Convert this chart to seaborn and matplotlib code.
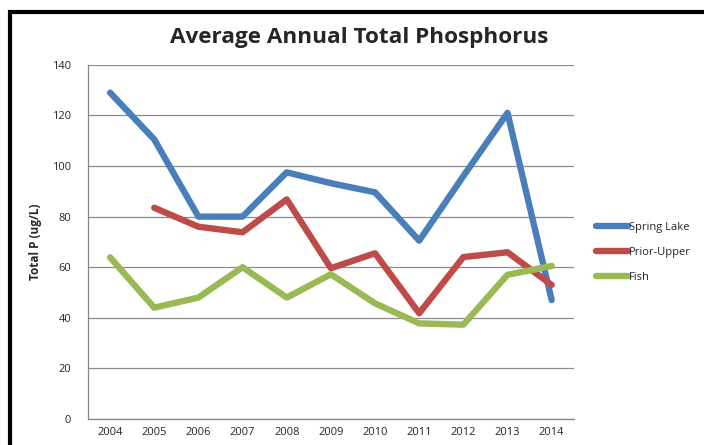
import numpy as np
import pandas as pd
import matplotlib.pyplot as plt
import seaborn as sns
from matplotlib.patches import Rectangle

years = [2004, 2005, 2006, 2007, 2008, 2009, 2010, 2011, 2012, 2013, 2014]
spring_lake = [129, 110.5, 80, 80, 97.5, 93.2, 89.6, 70.5, 96, 121, 47]
prior_upper = [np.nan, 83.5, 76, 73.8, 86.8, 59.6, 65.5, 41.8, 64, 65.9, 53]
fish = [63.9, 44, 48, 60, 48, 57.2, 45.7, 37.8, 37.3, 57, 60.5]

df = pd.DataFrame({'year': years, 'Spring Lake': spring_lake,
                   'Prior-Upper': prior_upper, 'Fish': fish})
long_df = df.melt(id_vars='year', var_name='site', value_name='tp')

sns.set_style('white')
plt.rcParams['font.family'] = ['Open Sans', 'DejaVu Sans']

fig = plt.figure(figsize=(7.04, 4.45), dpi=100)
ax = fig.add_axes([0.125, 0.0584, 0.690, 0.796])

# black chart frame (runs off the right and bottom edge)
fig.patches.append(Rectangle((10 / 704, -0.1), 1.2, 1 - 12 / 445 + 0.1,
                             transform=fig.transFigure, fill=False,
                             edgecolor='black', linewidth=3))

palette = {'Spring Lake': '#4A7EBB', 'Prior-Upper': '#BE4B48', 'Fish': '#98B954'}
sns.lineplot(data=long_df, x='year', y='tp', hue='site', palette=palette,
             linewidth=4.6, ax=ax, solid_capstyle='round')

ax.set_xlim(2003.5, 2014.5)
ax.set_ylim(0, 140)
ax.set_yticks(range(0, 141, 20))
ax.set_xticks(np.arange(2003.5, 2015, 1))
ax.set_xticklabels([])
ax.set_xticks(years, minor=True)
ax.set_xticklabels([str(y) for y in years], minor=True, fontsize=8)
ax.tick_params(axis='x', which='major', length=4, color='#868686', direction='out')
ax.tick_params(axis='x', which='minor', length=0, pad=6)
ax.tick_params(axis='y', length=4, color='#868686', direction='out', labelsize=8, pad=8)
ax.yaxis.grid(True, color='#8c8c8c', linewidth=0.9)
ax.set_axisbelow(True)
for s in ['top', 'right']:
    ax.spines[s].set_visible(False)
for s in ['left', 'bottom']:
    ax.spines[s].set_color('#868686')
    ax.spines[s].set_linewidth(0.9)

ax.set_xlabel('')
ax.set_ylabel('Total P (ug/L)', fontsize=8.5, fontweight='bold', labelpad=7)
fig.text(0.51, 0.916, 'Average Annual Total Phosphorus', ha='center',
         va='center', fontsize=16.2, fontweight='bold')

leg = ax.legend(loc='center left', bbox_to_anchor=(1.025, 0.47), frameon=False,
                fontsize=8, handlelength=2.9, handletextpad=0.05, labelspacing=1.25)
for line in leg.get_lines():
    line.set_linewidth(4.6)

fig.savefig('out.png', dpi=100)
